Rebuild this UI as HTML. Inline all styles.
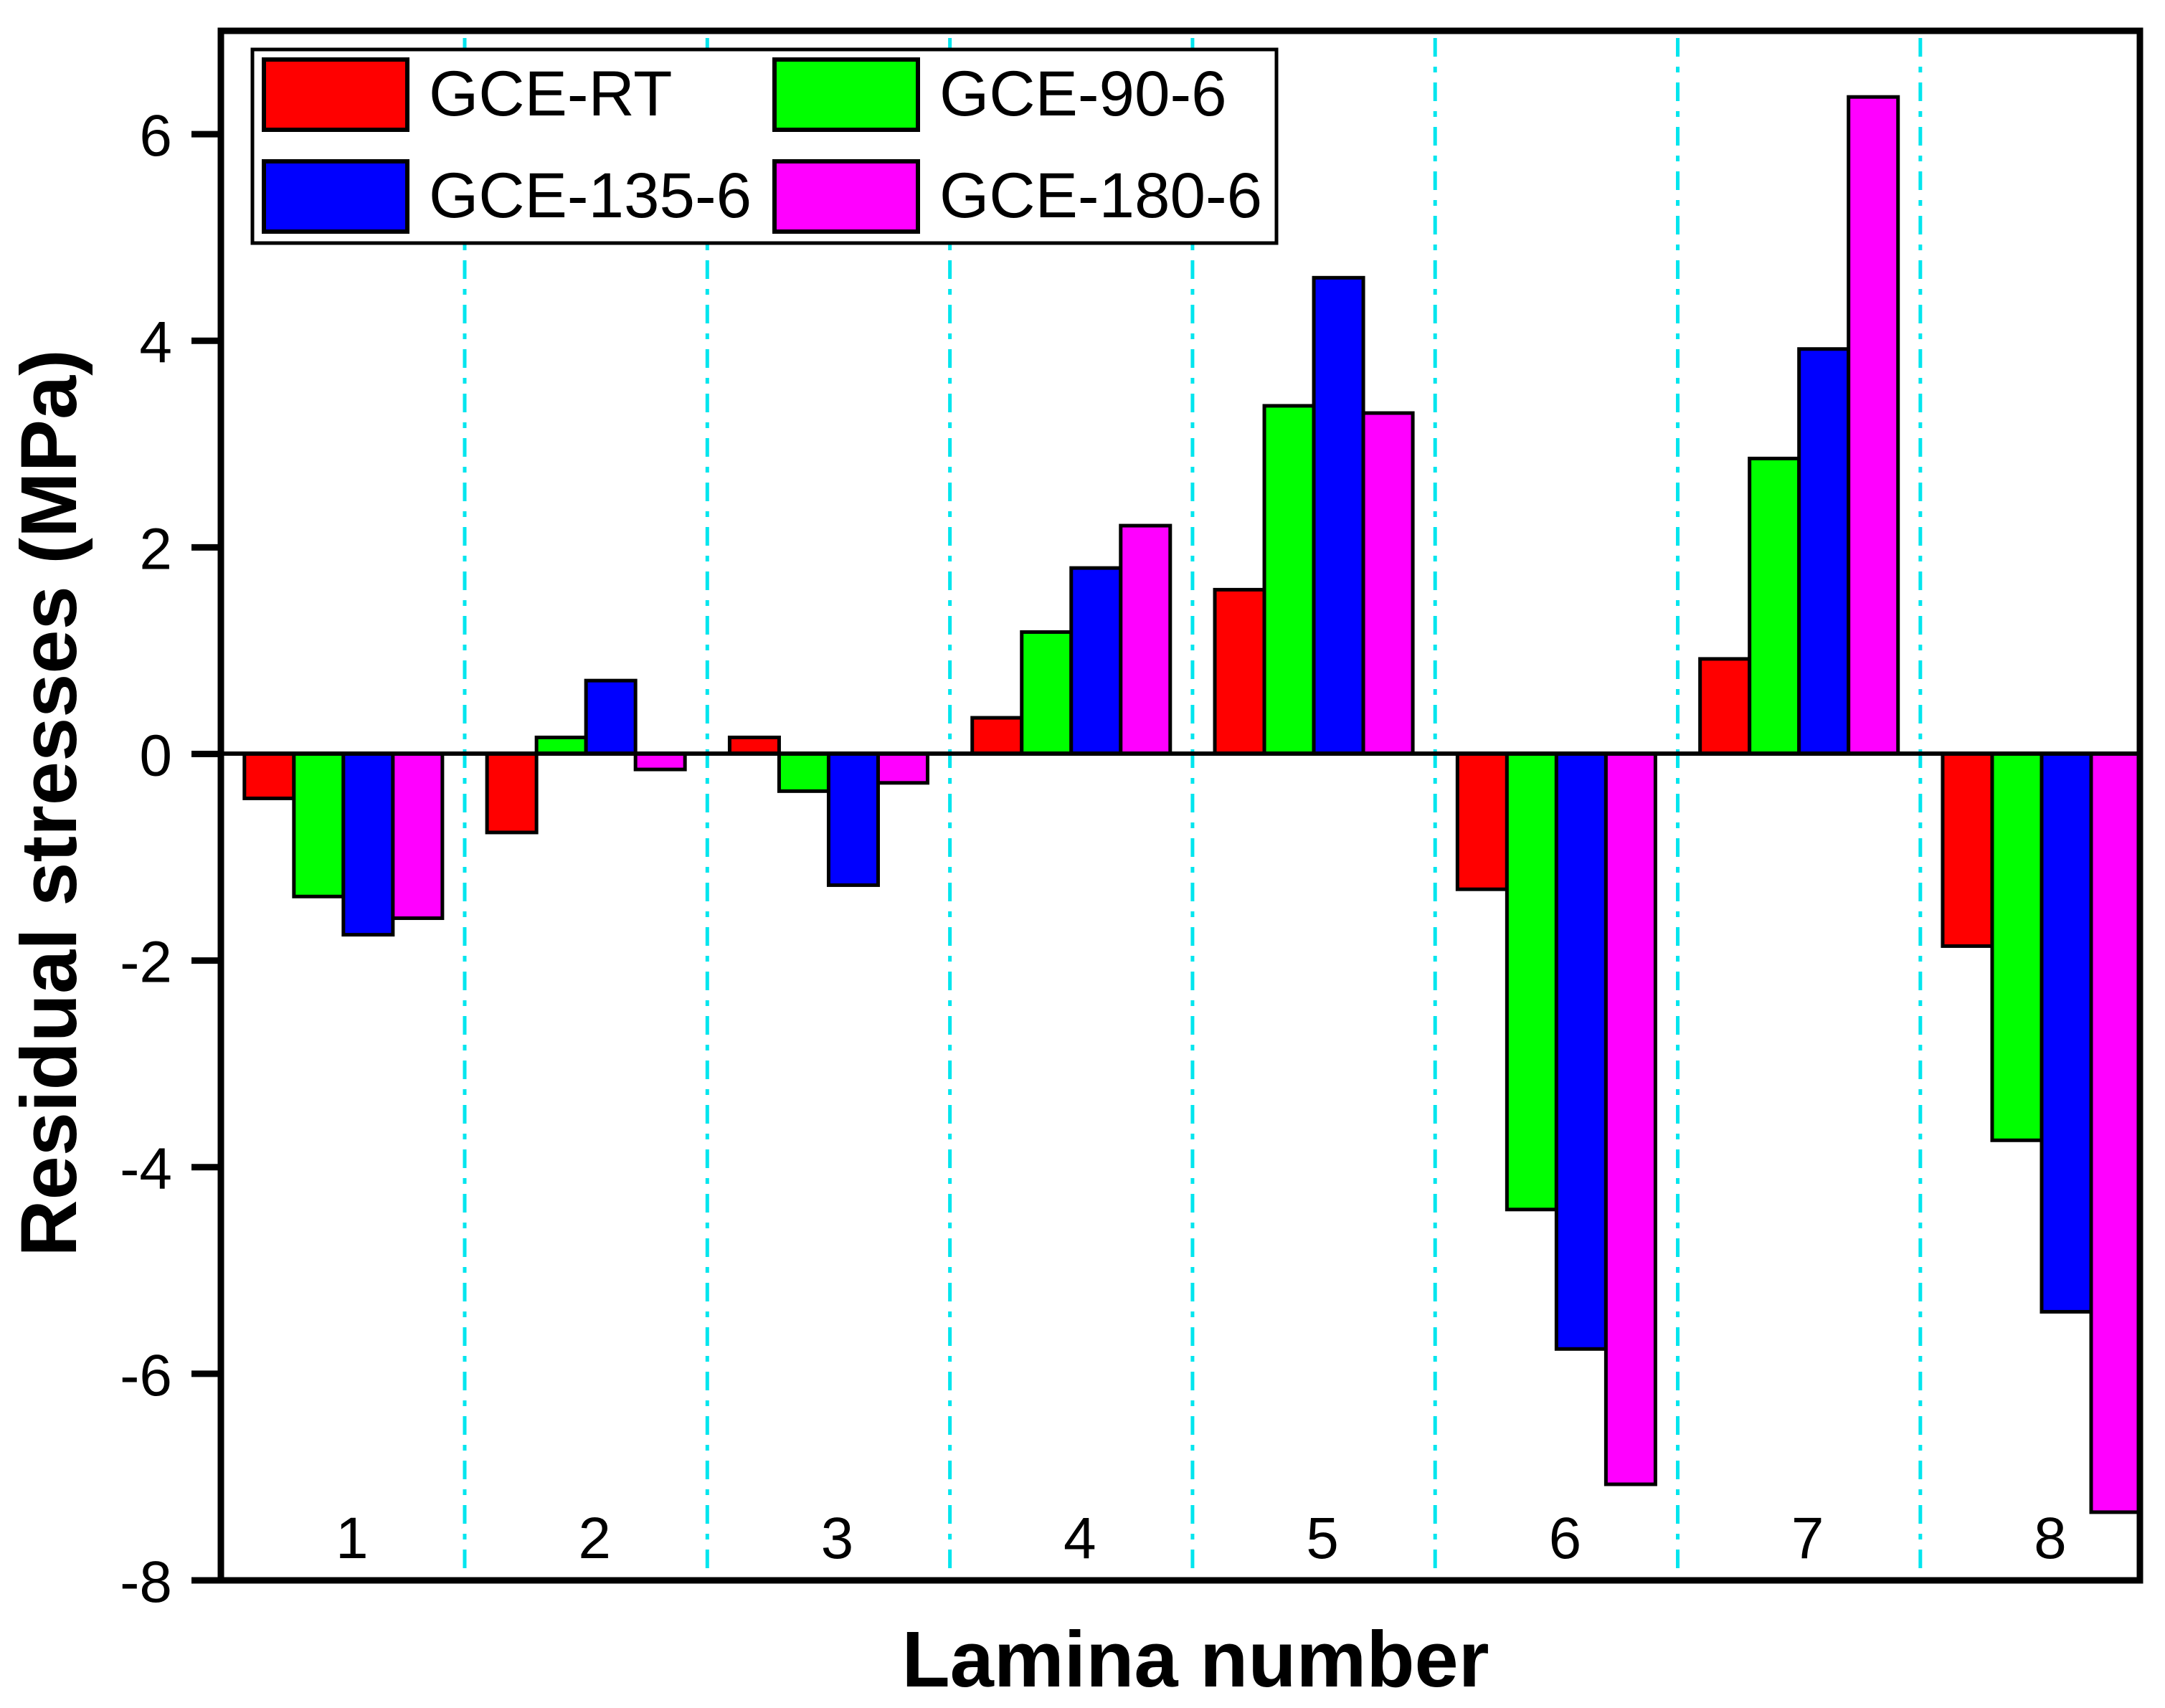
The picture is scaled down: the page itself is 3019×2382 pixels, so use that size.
<!DOCTYPE html>
<html><head><meta charset="utf-8"><style>
html,body{margin:0;padding:0;background:#fff;}
svg{display:block;font-family:"Liberation Sans",Arial,sans-serif;}
</style></head><body>
<svg id="chart" width="3019" height="2382" viewBox="0 0 3019 2382" xmlns="http://www.w3.org/2000/svg">
<g id="grid"></g>
<g id="bars"></g>
<line x1="308" y1="1051" x2="2984" y2="1051" stroke="#000" stroke-width="6"/>
<rect x="308" y="43" width="2676" height="2161" fill="none" stroke="#000" stroke-width="9"/>
<g id="yticks"></g>
<g id="xlabels"></g>
<text transform="translate(106,1120) rotate(-90)" text-anchor="middle" font-weight="bold" font-size="110">Residual stresses (MPa)</text>
<text x="1667" y="2352" text-anchor="middle" font-weight="bold" font-size="110">Lamina number</text>
<g>
<rect x="352" y="69" width="1428" height="270" fill="#fff" stroke="#000" stroke-width="5"/>
<rect x="368" y="83" width="200" height="98" fill="#ff0000" stroke="#000" stroke-width="6"/>
<text x="598" y="161" font-size="89">GCE-RT</text>
<rect x="1080" y="83" width="200" height="98" fill="#00ff00" stroke="#000" stroke-width="6"/>
<text x="1310" y="161" font-size="89">GCE-90-6</text>
<rect x="368" y="225" width="200" height="98" fill="#0000ff" stroke="#000" stroke-width="6"/>
<text x="598" y="303" font-size="89">GCE-135-6</text>
<rect x="1080" y="225" width="200" height="98" fill="#ff00ff" stroke="#000" stroke-width="6"/>
<text x="1310" y="303" font-size="89">GCE-180-6</text>
</g>
</svg>
<script>
const categories = [1,2,3,4,5,6,7,8];
const seriesNames = ["GCE-RT","GCE-90-6","GCE-135-6","GCE-180-6"];
const gceRT   = [-0.43,-0.76,0.16,0.35,1.59,-1.31,0.92,-1.86];
const gce90   = [-1.38,0.16,-0.36,1.18,3.37,-4.41,2.86,-3.74];
const gce135  = [-1.75,0.71,-1.27,1.80,4.61,-5.76,3.92,-5.40];
const gce180  = [-1.59,-0.15,-0.28,2.21,3.30,-7.07,6.36,-7.34];
const yTicks = [6,4,2,0,-2,-4,-6,-8];
const NS="http://www.w3.org/2000/svg";
const L=308,R=2984,T=43,B=2204;
const xMin=0.495,xMax=8.405,yMin=-8,yMax=7;
function xs(v){return L+(v-xMin)/(xMax-xMin)*(R-L);}
function ys(v){return T+(yMax-v)/(yMax-yMin)*(B-T);}
function mk(tag,attrs,parent){const e=document.createElementNS(NS,tag);for(const k in attrs)e.setAttribute(k,attrs[k]);parent.appendChild(e);return e;}
const series=[gceRT,gce90,gce135,gce180];
const colors=["#ff0000","#00ff00","#0000ff","#ff00ff"];
const slugs=["gce-rt","gce-90-6","gce-135-6","gce-180-6"];
const grid=document.getElementById('grid');
for(let i=0;i<categories.length-1;i++){
  const x=xs(categories[i]+0.5);
  const l=mk('line',{x1:x,y1:T+10,x2:x,y2:B-10,stroke:'#00e5ee','stroke-width':5,'stroke-dasharray':'26 14 8 14'},grid);
  
  
}
const bars=document.getElementById('bars');
const bw=0.204;
categories.forEach((c,i)=>{
  series.forEach((s,j)=>{
    const x0=xs(c-2*bw+j*bw), x1=xs(c-2*bw+(j+1)*bw);
    const y0=ys(Math.max(0,s[i])), y1=ys(Math.min(0,s[i]));
    const r=mk('rect',{x:x0,y:y0,width:x1-x0,height:Math.max(1,y1-y0),fill:colors[j],stroke:'#000','stroke-width':5},bars);
    
    
  });
});
const yt=document.getElementById('yticks');
yTicks.forEach(v=>{
  const y=ys(v);
  const t=mk('line',{x1:267,y1:y,x2:308,y2:y,stroke:'#000','stroke-width':9},yt);
  
  
  const lb=mk('text',{x:240,y:y+30,'text-anchor':'end','font-size':82},yt);
  lb.textContent=String(v);
  
  
});
const xl=document.getElementById('xlabels');
categories.forEach(c=>{
  const lb=mk('text',{x:xs(c)+12,y:2173,'text-anchor':'middle','font-size':82},xl);
  lb.textContent=String(c);
  
  
});
</script>
</body></html>
